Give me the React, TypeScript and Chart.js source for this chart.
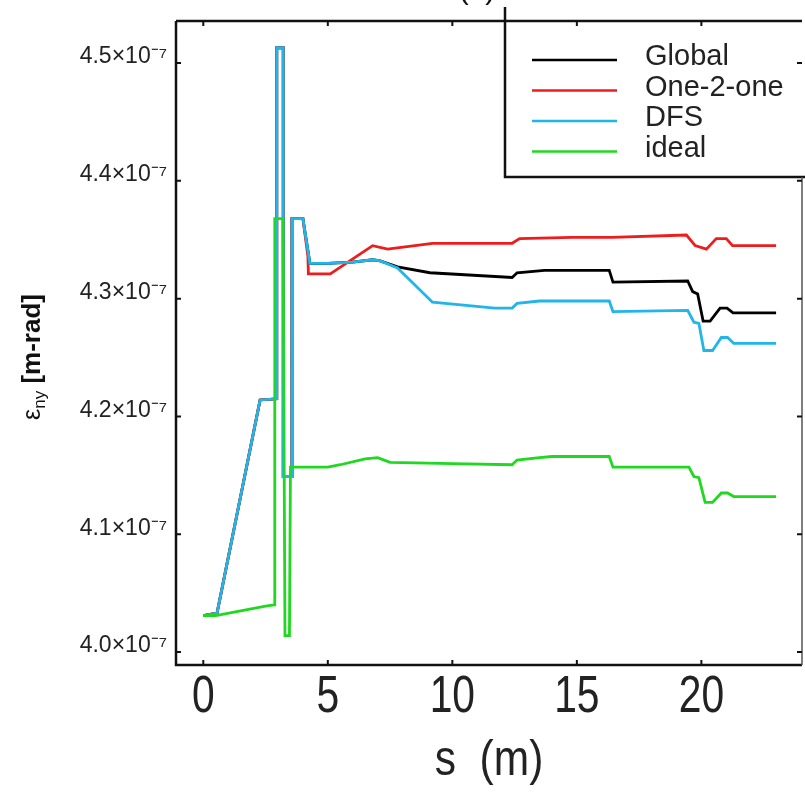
import React, { useEffect, useRef } from 'react';
import { Chart, registerables } from 'chart.js';

Chart.register(...registerables);

// ---- data (values in units of 1e-7 m-rad) ----
const seriesNames = ['Global', 'One-2-one', 'DFS', 'ideal'];
const seriesColors = ['#000000', '#ee1c1c', '#22b5e8', '#1fd81f'];

const sGlobal = [0, 0.55, 2.28, 2.95, 2.95, 3.21, 3.21, 3.56, 3.56, 4.0, 4.28, 5.0, 6.0, 6.8, 7.1, 7.8, 9.1, 12.4, 12.6, 13.7, 16.3, 16.45, 19.45, 19.65, 19.85, 20.07, 20.35, 20.75, 21.03, 21.27, 23.0];
const vGlobal = [4.031, 4.033, 4.214, 4.215, 4.513, 4.513, 4.149, 4.149, 4.368, 4.368, 4.330, 4.330, 4.331, 4.333, 4.332, 4.327, 4.322, 4.318, 4.322, 4.324, 4.324, 4.314, 4.315, 4.306, 4.304, 4.281, 4.281, 4.292, 4.292, 4.288, 4.288];

const sOne2One = [0, 0.55, 2.28, 2.95, 2.95, 3.21, 3.21, 3.56, 3.56, 4.0, 4.2, 4.22, 5.1, 6.8, 7.4, 9.2, 12.4, 12.7, 14.8, 16.4, 19.4, 19.75, 20.2, 20.6, 21.0, 21.25, 23.0];
const vOne2One = [4.031, 4.033, 4.214, 4.215, 4.513, 4.513, 4.149, 4.149, 4.368, 4.368, 4.336, 4.321, 4.321, 4.345, 4.342, 4.347, 4.347, 4.351, 4.352, 4.352, 4.354, 4.345, 4.342, 4.351, 4.351, 4.345, 4.345];

const sDFS = [0, 0.55, 2.28, 2.95, 2.95, 3.21, 3.21, 3.56, 3.56, 4.0, 4.28, 5.0, 6.0, 6.8, 7.1, 7.8, 9.2, 11.7, 12.4, 12.6, 13.5, 16.3, 16.45, 19.45, 19.7, 19.9, 20.1, 20.45, 20.8, 21.05, 21.3, 23.0];
const vDFS = [4.031, 4.033, 4.214, 4.215, 4.513, 4.513, 4.149, 4.149, 4.368, 4.368, 4.330, 4.330, 4.331, 4.333, 4.332, 4.326, 4.297, 4.292, 4.292, 4.296, 4.298, 4.298, 4.289, 4.290, 4.280, 4.279, 4.256, 4.256, 4.267, 4.267, 4.262, 4.262];

const sIdeal = [0, 0.5, 1.5, 2.5, 2.85, 2.87, 3.2, 3.28, 3.46, 3.5, 5.0, 5.5, 6.5, 7.0, 7.5, 10.0, 12.4, 12.6, 13.5, 14.0, 16.3, 16.45, 19.5, 19.7, 19.9, 20.15, 20.45, 20.8, 21.05, 21.3, 23.0];
const vIdeal = [4.031, 4.031, 4.035, 4.039, 4.040, 4.368, 4.368, 4.014, 4.014, 4.157, 4.157, 4.159, 4.164, 4.165, 4.161, 4.160, 4.159, 4.163, 4.165, 4.166, 4.166, 4.157, 4.157, 4.149, 4.148, 4.127, 4.127, 4.135, 4.135, 4.132, 4.132];

const xTicks = [0, 5, 10, 15, 20];
const yTicks = [4.0, 4.1, 4.2, 4.3, 4.4, 4.5];
const xTitle = 's  (m)';
const topTitle = '(a)';

const toPoints = (s: number[], v: number[]) => s.map((x, i) => ({ x, y: v[i] }));

const SANS = "'Liberation Sans', Arial, Helvetica, sans-serif";

// draw text horizontally condensed (the reference uses a narrow face)
function narrowText(ctx: any, text: string, x: number, y: number, size: number, squeeze: number) {
  ctx.save();
  ctx.font = `${size}px ${SANS}`;
  ctx.textAlign = 'center';
  ctx.textBaseline = 'middle';
  ctx.translate(x, y);
  ctx.scale(squeeze, 1);
  ctx.fillText(text, 0, 0);
  ctx.restore();
}

const decorPlugin = {
  id: 'decor',
  afterDatasetsDraw(chart: any) {
    const { ctx, chartArea: a, scales } = chart;
    ctx.save();
    // legend box
    ctx.fillStyle = '#ffffff';
    ctx.fillRect(505, -5, 400, 182);
    ctx.strokeStyle = '#111111';
    ctx.lineWidth = 2.5;
    ctx.beginPath();
    ctx.moveTo(505, 7);
    ctx.lineTo(505, 177);
    ctx.lineTo(810, 177);
    ctx.stroke();

    // legend entries
    const ds = chart.data.datasets;
    ctx.font = `29px ${SANS}`;
    ctx.textBaseline = 'middle';
    ctx.textAlign = 'left';
    ds.forEach((d: any, i: number) => {
      const y = 57 + i * 30.5;
      ctx.strokeStyle = d.borderColor;
      ctx.lineWidth = 2.5;
      ctx.beginPath();
      ctx.moveTo(532, y + 3);
      ctx.lineTo(617, y + 3);
      ctx.stroke();
      ctx.fillStyle = '#222222';
      ctx.fillText(d.label, 645, y);
    });

    // frame
    ctx.strokeStyle = '#111111';
    ctx.lineWidth = 2.5;
    ctx.beginPath();
    ctx.moveTo(a.left, a.top);
    ctx.lineTo(a.left, a.bottom);
    ctx.lineTo(a.right, a.bottom);
    ctx.moveTo(a.left, a.top);
    ctx.lineTo(a.right, a.top);
    ctx.stroke();
    ctx.lineWidth = 1.5;
    ctx.strokeStyle = '#555555';
    ctx.beginPath();
    ctx.moveTo(a.right, 177);
    ctx.lineTo(a.right, a.bottom);
    ctx.stroke();

    // inward tick marks
    ctx.strokeStyle = '#111111';
    ctx.lineWidth = 2;
    ctx.beginPath();
    xTicks.forEach((v) => {
      const px = scales.x.getPixelForValue(v);
      ctx.moveTo(px, a.bottom);
      ctx.lineTo(px, a.bottom - 5);
      ctx.moveTo(px, a.top);
      ctx.lineTo(px, a.top + 5);
    });
    yTicks.forEach((v) => {
      const py = scales.y.getPixelForValue(v);
      ctx.moveTo(a.left, py);
      ctx.lineTo(a.left + 5, py);
      ctx.moveTo(a.right, py);
      ctx.lineTo(a.right - 5, py);
    });
    ctx.stroke();

    // x tick labels and x title (narrow face)
    ctx.fillStyle = '#222222';
    xTicks.forEach((v) => {
      const px = scales.x.getPixelForValue(v);
      narrowText(ctx, String(v), px, a.bottom + 33, 51, 0.8);
    });
    narrowText(ctx, xTitle, (a.left + a.right) / 2, 761, 50, 0.85);

    // y-axis title: ε_ny [m-rad]
    ctx.save();
    ctx.translate(33, 357);
    ctx.rotate(-Math.PI / 2);
    ctx.fillStyle = '#111111';
    ctx.textBaseline = 'middle';
    ctx.textAlign = 'left';
    const f1 = `25px ${SANS}`;
    const f2 = `17px ${SANS}`;
    const f3 = `bold 26px ${SANS}`;
    ctx.font = f1;
    const w1 = ctx.measureText('ε').width;
    ctx.font = f2;
    const w2 = ctx.measureText('ny').width;
    ctx.font = f3;
    const w3 = ctx.measureText(' [m-rad]').width;
    let x0 = -(w1 + w2 + w3) / 2;
    ctx.font = f1;
    ctx.fillText('ε', x0, 0);
    x0 += w1;
    ctx.font = f2;
    ctx.fillText('ny', x0, 7);
    x0 += w2;
    ctx.font = f3;
    ctx.fillText(' [m-rad]', x0, 0);
    ctx.restore();

    // cropped panel title at the very top
    ctx.font = `30px ${SANS}`;
    ctx.fillStyle = '#111111';
    ctx.textAlign = 'center';
    ctx.textBaseline = 'alphabetic';
    ctx.fillText(topTitle, 477, -1);

    ctx.restore();
  },
};

export default function App() {
  const ref = useRef<HTMLCanvasElement | null>(null);

  useEffect(() => {
    if (!ref.current) return;
    const chart = new Chart(ref.current, {
      type: 'scatter',
      data: {
        datasets: [
          { label: seriesNames[0], data: toPoints(sGlobal, vGlobal), borderColor: seriesColors[0], order: 3 },
          { label: seriesNames[1], data: toPoints(sOne2One, vOne2One), borderColor: seriesColors[1], order: 2 },
          { label: seriesNames[2], data: toPoints(sDFS, vDFS), borderColor: seriesColors[2], order: 1 },
          { label: seriesNames[3], data: toPoints(sIdeal, vIdeal), borderColor: seriesColors[3], order: 0 },
        ].map((d) => ({
          ...d,
          showLine: true,
          pointRadius: 0,
          borderWidth: 2.8,
          tension: 0,
          backgroundColor: d.borderColor,
        })),
      },
      options: {
        animation: false,
        responsive: false,
        devicePixelRatio: 1,
        layout: { padding: { top: 21, right: 3, left: 0, bottom: 0 } },
        plugins: {
          legend: { display: false },
          tooltip: { enabled: false },
          title: { display: false },
        },
        scales: {
          x: {
            type: 'linear',
            min: -1.096,
            max: 24.04,
            grid: { display: false },
            border: { display: false },
            afterBuildTicks: (scale: any) => {
              scale.ticks = xTicks.map((value) => ({ value }));
            },
            afterFit: (scale: any) => {
              scale.height = 133;
            },
            ticks: { display: false },
            title: { display: false },
          },
          y: {
            type: 'linear',
            min: 3.989,
            max: 4.5357,
            grid: { display: false },
            border: { display: false },
            afterBuildTicks: (scale: any) => {
              scale.ticks = yTicks.map((value) => ({ value }));
            },
            afterFit: (scale: any) => {
              scale.width = 176;
            },
            ticks: {
              padding: 1,
              labelOffset: -6,
              color: '#222222',
              font: { family: SANS, size: 23 },
              callback: (v: any) => `${Number(v).toFixed(1)}×10⁻⁷`,
            },
          },
        },
      },
      plugins: [decorPlugin],
    } as any);
    return () => chart.destroy();
  }, []);

  return (
    <canvas
      ref={ref}
      width={805}
      height={798}
      style={{ position: 'fixed', left: 0, top: 0, width: 805, height: 798, background: '#ffffff' }}
    />
  );
}
